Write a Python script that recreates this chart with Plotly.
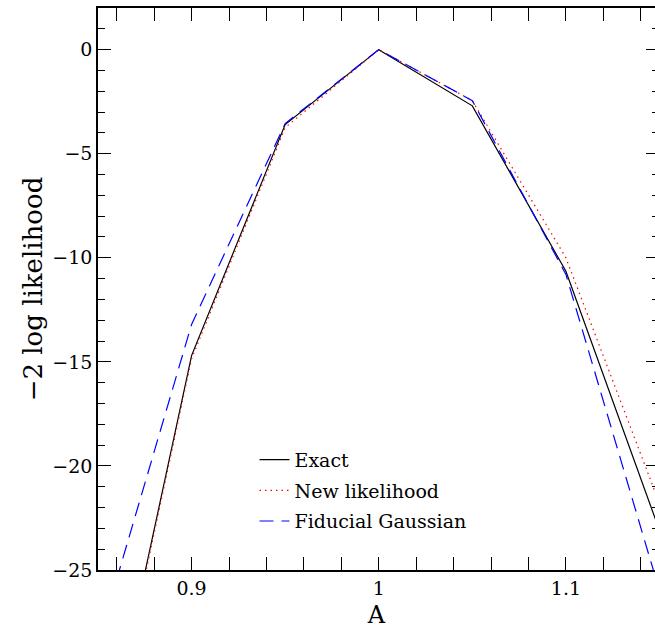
import plotly.graph_objects as go

A = [0.85, 0.90, 0.95, 1.00, 1.05, 1.10, 1.15]
exact = [-35.6, -14.7, -3.6, 0.0, -2.7, -10.65, -23.1]
new_like = [-35.8, -14.85, -3.75, 0.0, -2.45, -10.0, -21.8]
fid_gauss = [-28.5, -13.2, -3.55, 0.0, -2.45, -10.8, -26.0]
names = ["Exact", "New likelihood", "Fiducial Gaussian"]

FONT = "DejaVu Serif"

fig = go.Figure()
fig.add_trace(go.Scatter(x=A, y=exact, mode="lines", name=names[0], legendgroup="a",
                         line=dict(color="black", width=1.2)))
fig.add_trace(go.Scatter(x=A, y=new_like, mode="lines", name=names[1], legendgroup="b",
                         line=dict(color="#ff0000", width=1.2, dash="1.5px,4px")))
fig.add_trace(go.Scatter(x=A, y=fid_gauss, mode="lines", name=names[2], legendgroup="c",
                         yaxis="y2", line=dict(color="#0000ff", width=1.2, dash="14px,8px")))

tick_font = dict(family=FONT, size=19, color="black")

fig.update_layout(
    width=655, height=629,
    margin=dict(l=98, r=0, t=8, b=59),
    paper_bgcolor="white", plot_bgcolor="white",
    font=dict(family=FONT, color="black"),
    xaxis=dict(range=[0.85, 1.1476], dtick=0.1, tick0=0, ticks="inside", ticklen=13,
               tickwidth=1, tickcolor="black", showline=True, linecolor="black", linewidth=1.5,
               mirror="allticks", showgrid=False, zeroline=False, tickfont=tick_font,
               automargin=False,
               minor=dict(dtick=0.02, ticks="inside", ticklen=6.5, tickcolor="black", tickwidth=1),
               title=dict(text="A", font=dict(family=FONT, size=24), standoff=21)),
    yaxis=dict(range=[-25, 2], dtick=5, tick0=0, ticks="inside", ticklen=13,
               tickwidth=1, tickcolor="black", showline=True, linecolor="black", linewidth=1.5,
               mirror=False, showgrid=False, zeroline=False, tickfont=tick_font,
               automargin=False,
               minor=dict(dtick=1, ticks="inside", ticklen=7, tickcolor="black", tickwidth=1),
               title=dict(text="−2 log likelihood", font=dict(family=FONT, size=26), standoff=2)),
    yaxis2=dict(range=[-25, 2], overlaying="y", side="right", anchor="x", dtick=5, tick0=0,
                ticks="inside", ticklen=9, tickwidth=1, tickcolor="black", showline=False,
                showgrid=False, zeroline=False, showticklabels=False, automargin=False,
                minor=dict(dtick=1, ticks="inside", ticklen=3.5, tickcolor="black", tickwidth=1)),
    legend=dict(x=0.281, y=0.230, xanchor="left", yanchor="top", bgcolor="rgba(0,0,0,0)",
                font=dict(family=FONT, size=19, color="black"), tracegroupgap=3),
    showlegend=True,
)

fig.write_html("out.html", config={"displayModeBar": False},
               post_script="document.body.style.margin='0';")
